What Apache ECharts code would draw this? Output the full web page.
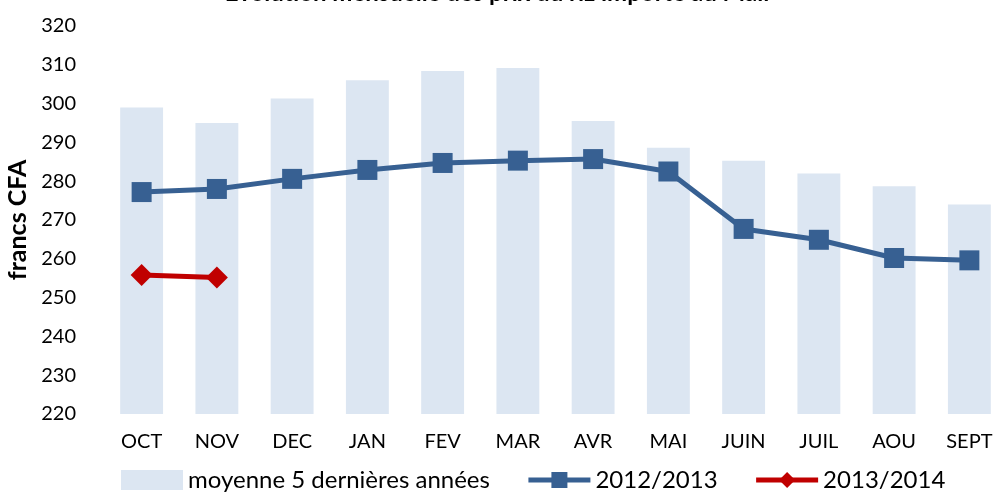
<!DOCTYPE html>
<html><head><meta charset="utf-8">
<script src="https://cdn.jsdelivr.net/npm/echarts@6/dist/echarts.min.js"></script>
<style>html,body{margin:0;padding:0;background:#fff}#c{width:994px;height:497px}</style>
</head><body><div id="c"></div>
<script>
const months = ['OCT','NOV','DEC','JAN','FEV','MAR','AVR','MAI','JUIN','JUIL','AOU','SEPT'];
const moyenne5 = [299, 295, 301.3, 306, 308.4, 309.2, 295.5, 288.6, 285.3, 282, 278.7, 274];
const s2012 = [277.2, 278, 280.6, 282.9, 284.7, 285.3, 285.7, 282.5, 267.7, 264.9, 260.2, 259.6];
const s2013 = [255.8, 255.2];
const yTicks = [220, 320, 10];

const chart = echarts.init(document.getElementById('c'));
const font = 'Lato, "Open Sans", sans-serif';
chart.setOption({
  animation: false,
  textStyle: {fontFamily: font},
  title: {text: 'Evolution mensuelle des prix du riz importé au Mali', left: 'center', top: -24,
    textStyle: {fontFamily: font, fontWeight: 'bold', fontSize: 24, color: '#000'}},
  grid: {left: 104, width: 903, top: 26, bottom: 83, containLabel: false, outerBoundsMode: 'none'},
  legend: {bottom: 0, left: 116, itemGap: 36, itemWidth: 62, itemHeight: 20,
    textStyle: {fontFamily: font, fontSize: 24, color: '#000'},
    data: [{name: 'moyenne 5 dernières années', icon: 'rect', itemStyle:{color:'#dce6f2'}},
           {name: '2012/2013', lineStyle: {width: 5}}, {name: '2013/2014', lineStyle: {width: 5}}]},
  xAxis: {type: 'category', data: months,
    axisLine: {show: false}, axisTick: {show: false},
    axisLabel: {fontSize: 20, color: '#000', margin: 18, fontFamily: font}},
  yAxis: {type: 'value', min: yTicks[0], max: yTicks[1], interval: yTicks[2],
    name: 'francs CFA', nameLocation: 'middle', nameGap: 70, nameRotate: 90,
    nameTextStyle: {fontSize: 25, fontWeight: 'bold', color: '#000', fontFamily: font},
    splitLine: {show: false}, axisLine: {show: false}, axisTick: {show: false},
    axisLabel: {fontSize: 20, color: '#000', margin: 28, fontFamily: font}},
  series: [
    {name: 'moyenne 5 dernières années', type: 'bar', data: moyenne5, barWidth: '57%',
     itemStyle: {color: '#dce6f2'}},
    {name: '2012/2013', type: 'line', data: s2012, symbol: 'rect', symbolSize: 20,
     lineStyle: {width: 5, color: '#376092'}, itemStyle: {color: '#376092'}},
    {name: '2013/2014', type: 'line', data: s2013, symbol: 'diamond', symbolSize: [22, 22],
     lineStyle: {width: 5, color: '#c00000'}, itemStyle: {color: '#c00000'}}
  ]
});
</script></body></html>
